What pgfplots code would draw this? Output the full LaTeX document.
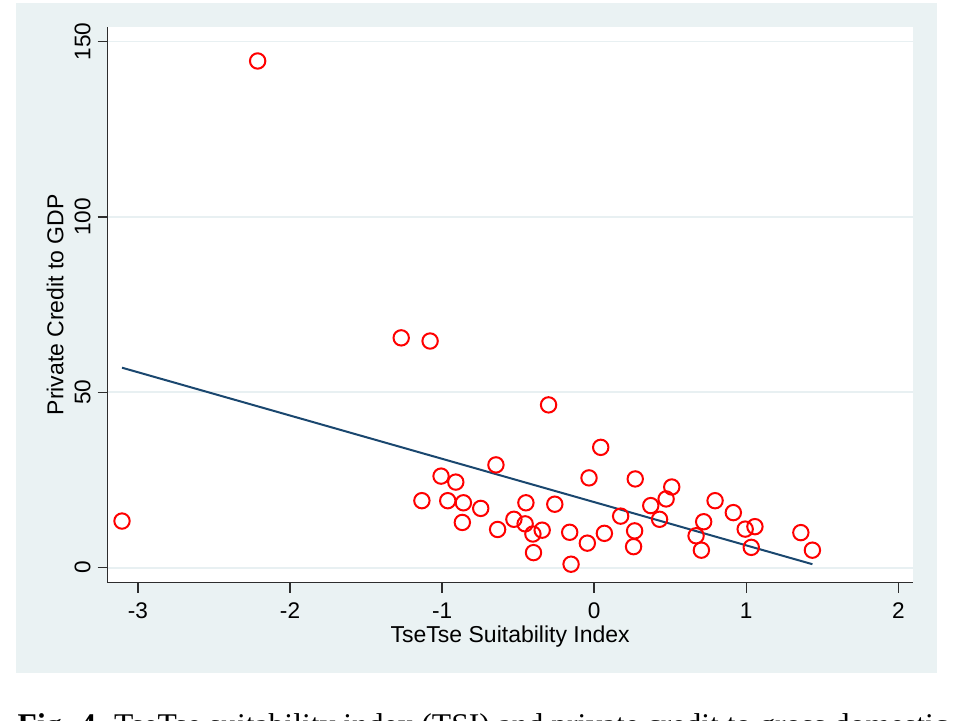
\documentclass[border=0pt]{standalone}
\usepackage{pgfplots}
\pgfplotsset{compat=1.18}
\usepackage{fontspec}
\setmainfont{Liberation Sans}
\newfontfamily\capfont{Liberation Serif}
\definecolor{panel}{RGB}{234,242,243}
\definecolor{gridc}{RGB}{232,240,242}
\definecolor{navy}{RGB}{26,71,111}
\definecolor{axc}{RGB}{45,45,45}
\begin{document}
\begin{tikzpicture}
\useasboundingbox (0,0) rectangle (477pt,-360.5pt);
\fill[panel] (8pt,-1.65pt) rectangle (468.35pt,-336.65pt);
\begin{axis}[
  at={(53.85pt,-291.35pt)}, anchor=south west,
  scale only axis, width=402.5pt, height=278pt,
  xmin=-3.199, xmax=2.0945, ymin=-4.27, ymax=154.17,
  axis lines*=left, axis line style={axc, line width=0.75pt, -},
  axis background/.style={fill=white},
  xtick={-3,-2,-1,0,1,2}, ytick={0,50,100,150},
  tick align=outside, major tick length=5pt,
  tick style={axc, line width=0.75pt},
  ymajorgrids, grid style={gridc, line width=0.8pt},
  every tick label/.append style={font=\fontsize{11.3}{13}\selectfont},
  /pgf/number format/assume math mode=true,
  yticklabel style={rotate=90, anchor=south},
  xticklabel style={yshift=-1.5pt},
  xlabel={TseTse Suitability Index},
  ylabel={Private Credit to GDP},
  every axis x label/.style={at={(axis description cs:0.5,-0.10845)}, anchor=base, font=\fontsize{11.5}{13}\selectfont},
  every axis y label/.style={at={(axis description cs:-0.05516,0.5)}, rotate=90, anchor=base, font=\fontsize{11.5}{13}\selectfont},
  clip=false,
]
\addplot[only marks, mark=o, mark size=3.85pt, mark options={red, line width=1pt}] table[x=x, y=y] {
x y
-2.213 144.4
-3.105 13.3
-1.269 65.5
-1.079 64.6
-0.300 46.4
0.043 34.3
-0.646 29.3
-1.007 26.1
-0.910 24.4
-1.133 19.1
-0.963 19.1
-0.860 18.5
-0.746 16.9
-0.867 12.9
-0.635 10.9
-0.449 18.5
-0.259 18.1
-0.528 13.8
-0.454 12.5
-0.403 9.6
-0.342 10.7
-0.399 4.3
-0.161 10.1
-0.152 1.0
-0.045 7.0
-0.034 25.6
0.067 9.8
0.174 14.7
0.266 10.5
0.259 6.0
0.270 25.3
0.372 17.7
0.430 13.8
0.473 19.6
0.510 23.0
0.670 9.1
0.705 5.0
0.720 13.1
0.795 19.1
0.915 15.7
0.993 11.0
1.057 11.7
1.033 5.8
1.359 10.0
1.435 5.0
};
\addplot[navy, line width=1pt] coordinates {(-3.105,57.0) (1.435,1.0)};
\end{axis}
\node[anchor=base west, inner sep=0pt, font=\capfont\fontsize{15.8}{18}\selectfont] at (8.65pt,-367.5pt) {\textbf{Fig. 4.} TseTse suitability index (TSI) and private credit to gross domestic};
\end{tikzpicture}
\end{document}
